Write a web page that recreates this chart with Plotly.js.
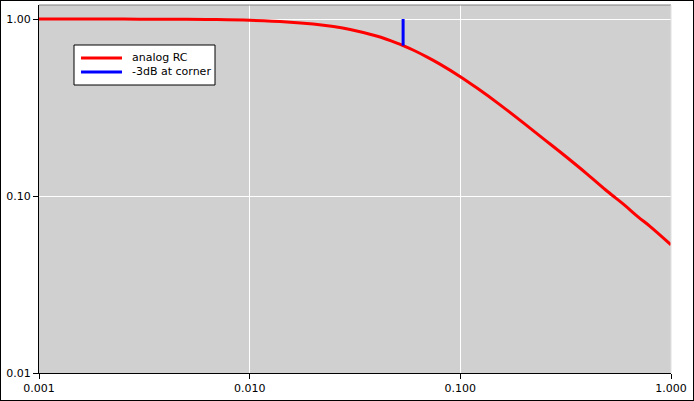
<!DOCTYPE html>
<html>
<head>
<meta charset="utf-8">
<script src="https://cdn.plot.ly/plotly-3.0.1.min.js"></script>
<style>
html,body{margin:0;padding:0;background:#fff;}
#chart{width:694px;height:401px;box-sizing:border-box;border:1px solid #000;}
</style>
</head>
<body>
<div id="chart"></div>
<script>
// Frequencies (normalized) and magnitude
const freq = [0.001, 0.002, 0.003, 0.005, 0.007, 0.01, 0.015, 0.02, 0.025, 0.03, 0.04, 0.05, 0.0535, 0.06, 0.07, 0.08, 0.1, 0.12, 0.15, 0.2, 0.25, 0.3, 0.4, 0.5, 0.6, 0.7, 0.8, 1.0];
const magnitude = [1.000, 0.999, 0.998, 0.996, 0.992, 0.983, 0.963, 0.937, 0.906, 0.872, 0.801, 0.731, 0.707, 0.666, 0.607, 0.556, 0.472, 0.407, 0.336, 0.258, 0.209, 0.176, 0.133, 0.106, 0.089, 0.076, 0.067, 0.053];
const cornerX = [0.0535, 0.0535];
const cornerY = [0.707, 1.0];
const seriesNames = ['analog RC', '-3dB at corner'];
const seriesColors = ['#ff0000', '#0000ff'];
const xTickVals = [0.001, 0.01, 0.1, 1];
const xTickText = ["0.001", "0.010", "0.100", "1.000"];
const yTickVals = [0.01, 0.1, 1];
const yTickText = ["0.01", "0.10", "1.00"];

const traces = [
  {x: freq, y: magnitude, mode: 'lines', name: seriesNames[0],
   line: {color: seriesColors[0], width: 3, shape: 'spline'}},
  {x: cornerX, y: cornerY, mode: 'lines', name: seriesNames[1],
   line: {color: seriesColors[1], width: 3}}
];

const axisCommon = {
  type: 'log', showline: true, linecolor: '#000', linewidth: 1,
  ticks: 'outside', ticklen: 5, tickwidth: 1, tickcolor: '#000',
  showgrid: true, gridcolor: '#ffffff', gridwidth: 1, zeroline: false,
  tickfont: {family: 'DejaVu Sans', size: 11, color: '#000'}
};

// Custom legend (box + sample lines + labels) in paper coordinates
const lg = {x0: 0.0554, x1: 0.2785, y0: 0.7826, y1: 0.8913, lx0: 0.0665, lx1: 0.1313, tx: 0.144, rows: [0.856, 0.818]};
const shapes = [
  {type: 'line', xref: 'paper', yref: 'paper', x0: 0, x1: 1, y0: 1, y1: 1, line: {color: '#808080', width: 1}},
  {type: 'line', xref: 'paper', yref: 'paper', x0: 1, x1: 1, y0: 0, y1: 1, line: {color: '#e0e0e0', width: 1}},
  {type: 'rect', xref: 'paper', yref: 'paper', x0: lg.x0, x1: lg.x1, y0: lg.y0, y1: lg.y1,
   fillcolor: '#ffffff', line: {color: '#000', width: 1}, layer: 'above'}
];
const annotations = [];
seriesNames.forEach((n, i) => {
  shapes.push({type: 'line', xref: 'paper', yref: 'paper', x0: lg.lx0, x1: lg.lx1, y0: lg.rows[i], y1: lg.rows[i],
    line: {color: seriesColors[i], width: 3}, layer: 'above'});
  annotations.push({xref: 'paper', yref: 'paper', x: lg.tx, y: lg.rows[i], xanchor: 'left', yanchor: 'middle',
    text: n, showarrow: false, font: {family: 'DejaVu Sans', size: 11, color: '#000'}});
});

const layout = {
  width: 692, height: 399,
  margin: {l: 38, r: 22, t: 4, b: 27, pad: 0},
  paper_bgcolor: '#ffffff', plot_bgcolor: '#d0d0d0',
  showlegend: false,
  xaxis: Object.assign({}, axisCommon, {range: [-3, 0], tickmode: 'array', tickvals: xTickVals, ticktext: xTickText}),
  yaxis: Object.assign({}, axisCommon, {range: [-2, 0.0791], tickmode: 'array', tickvals: yTickVals, ticktext: yTickText}),
  shapes: shapes,
  annotations: annotations
};

Plotly.newPlot('chart', traces, layout, {displayModeBar: false, staticPlot: true});
</script>
</body>
</html>
